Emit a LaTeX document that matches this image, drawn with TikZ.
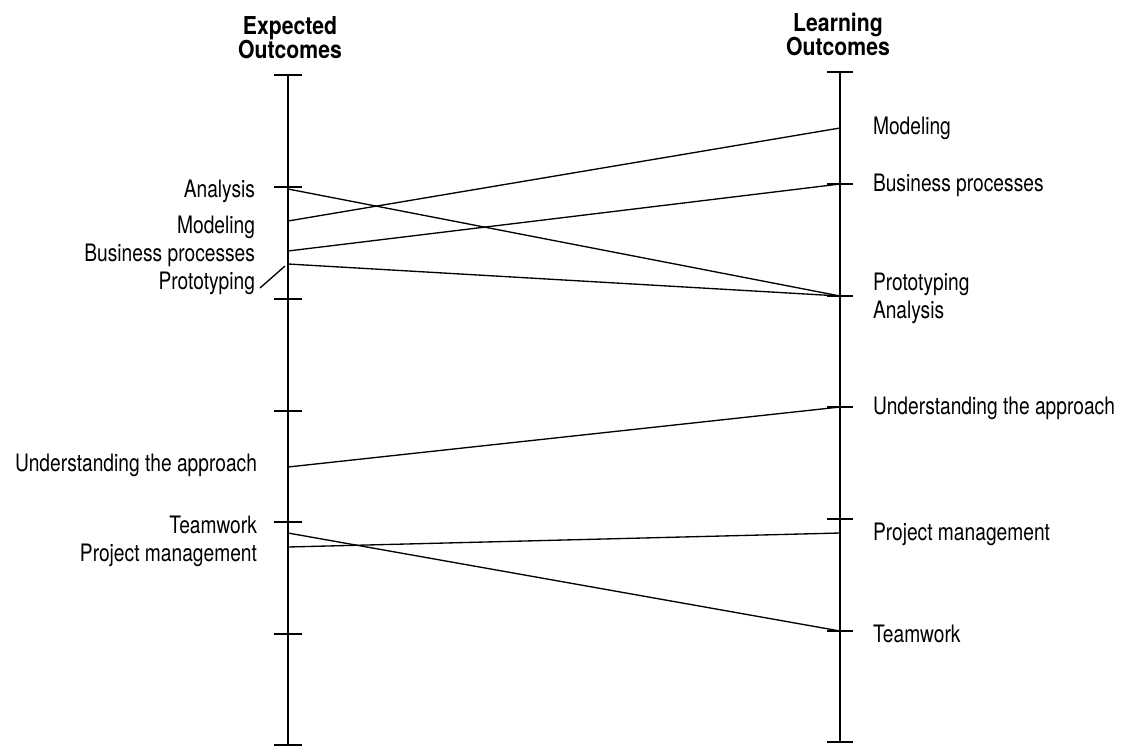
\documentclass[tikz,border=0pt]{standalone}
\usepackage{fontspec}
\setmainfont{TeX Gyre Heros}[FakeStretch=0.8]
\newfontfamily\titlefont{TeX Gyre Heros}[FakeStretch=0.86]
\usetikzlibrary{positioning}
\usetikzlibrary{calc}

\begin{document}
\begin{tikzpicture}[x=0.75pt,y=-0.75pt,
    lbl/.style={inner sep=0pt,outer sep=0pt,font=\fontsize{18}{20}\selectfont},
    leftlbl/.style={lbl,anchor=base east},
    rightlbl/.style={lbl,anchor=base west},
    ttl/.style={inner sep=0pt,anchor=base,font=\titlefont\bfseries\fontsize{18.5}{22}\selectfont},
    axis/.style={line width=1.4pt},
    link/.style={line width=1pt}]
    \useasboundingbox (0,0) rectangle (1125,747);
    % the two scales
    \coordinate (eTop) at (288,75);
    \coordinate (eBot) at (288,745);
    \coordinate (lTop) at (840,72);
    \coordinate (lBot) at (840,742);
    \draw[axis] (eTop) -- (eBot);
    \draw[axis] (lTop) -- (lBot);
    \foreach \y in {75,187,299,411,522,634,745}{
      \draw[axis] (274,\y) -- (302,\y);
    }
    \foreach \y in {72,184,296,407,519,631,742}{
      \draw[axis] (827,\y) -- (853,\y);
    }
    \node[ttl] (eTitle) at (290,34) {Expected};
    \node[ttl] (eTitleB) at (290,58) {Outcomes};
    \node[ttl] (lTitle) at (838,31) {Learning};
    \node[ttl] (lTitleB) at (838,55) {Outcomes};
    % expected side
    \node[leftlbl] (eAna) at (255,197) {Analysis};
    \node[leftlbl] (eMod) at (255,233) {Modeling};
    \node[leftlbl] (eBus) at (255,261) {Business processes};
    \node[leftlbl] (eProto) at (255,289) {Prototyping};
    \node[leftlbl] (eUnd) at (257,471) {Understanding the approach};
    \node[leftlbl] (eTeam) at (257,533) {Teamwork};
    \node[leftlbl] (ePM) at (257,561) {Project management};
    \coordinate (pAna) at (288,189);
    \coordinate (pMod) at (288,221);
    \coordinate (pBus) at (288,251);
    \coordinate (pProto) at (288,264);
    \coordinate (pUnd) at (288,467);
    \coordinate (pTeam) at (288,533);
    \coordinate (pPM) at (288,547);
    \draw[link] ([shift={(5,-1)}] eProto.base east) -- (285,266);
    % learning side
    \node[rightlbl] (lMod) at (873,134) {Modeling};
    \node[rightlbl] (lBus) at (873,191) {Business processes};
    \node[rightlbl] (lProto) at (873,290) {Prototyping};
    \node[rightlbl] (lAna) at (873,318) {Analysis};
    \node[rightlbl] (lUnd) at (873,414) {Understanding the approach};
    \node[rightlbl] (lPM) at (873,540) {Project management};
    \node[rightlbl] (lTeam) at (873,642) {Teamwork};
    \coordinate (qMod) at (840,128);
    \coordinate (qBus) at (840,184);
    \coordinate (qProto) at (840,296);
    \coordinate (qUnd) at (840,407);
    \coordinate (qPM) at (840,533);
    \coordinate (qTeam) at (840,631);
    % links between the scales
    \draw[link] (pAna) -- (qProto);
    \draw[link] (pMod) -- (qMod);
    \draw[link] (pBus) -- (qBus);
    \draw[link] (pProto) -- (qProto);
    \draw[link] (pUnd) -- (qUnd);
    \draw[link] (pTeam) -- (qTeam);
    \draw[link] (pPM) -- (qPM);
\end{tikzpicture}
\end{document}
